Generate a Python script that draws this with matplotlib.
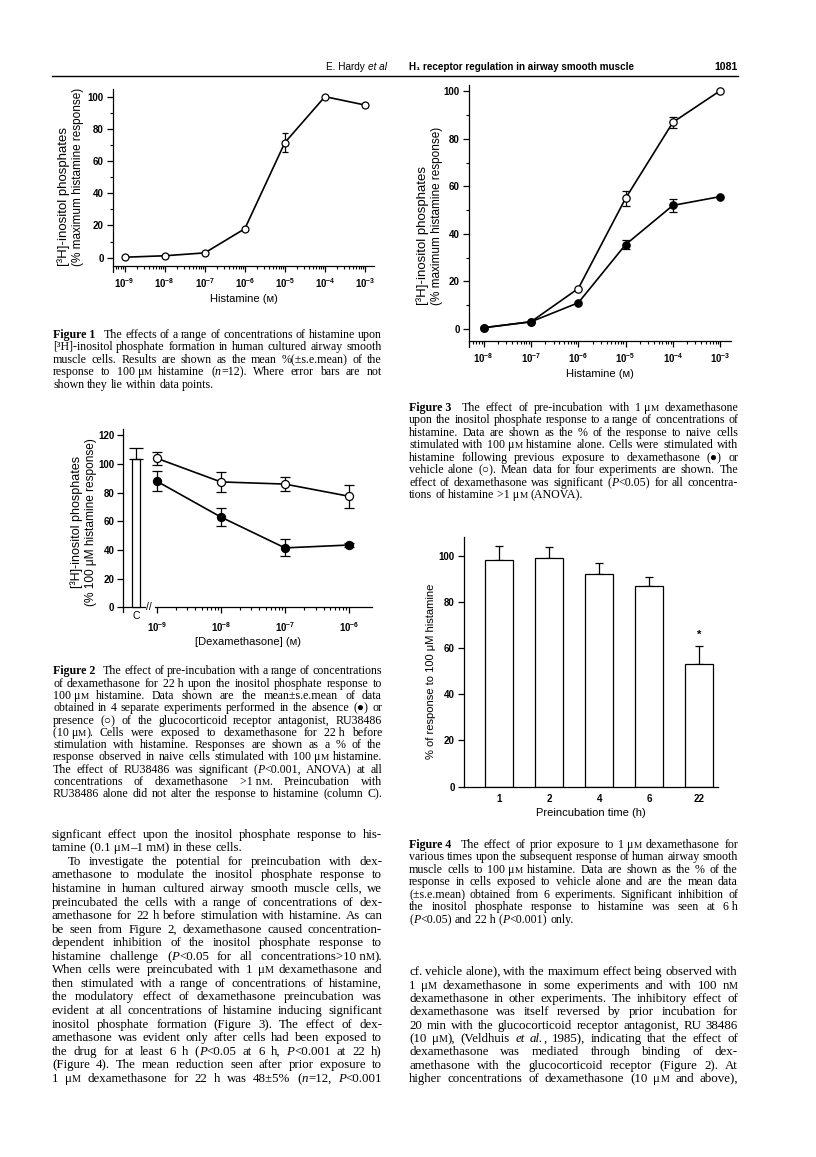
import numpy as np
import matplotlib
matplotlib.use('Agg')
import matplotlib.pyplot as plt
from matplotlib.ticker import MultipleLocator, LogLocator, NullFormatter

# figure 1: histamine concentration-response
f1_conc = np.array([1e-9, 1e-8, 1e-7, 1e-6, 1e-5, 1e-4, 1e-3])
f1_resp = np.array([0.3, 1.2, 3.0, 18.0, 71.5, 100.0, 94.8])
f1_err = np.array([0, 0, 0, 0, 6.0, 0, 1.4])

# figure 2: dexamethasone with / without RU38486
f2_conc = np.array([1e-9, 1e-8, 1e-7, 1e-6])
f2_dex = np.array([88.0, 63.0, 41.5, 43.5])
f2_dex_err = np.array([7.0, 6.5, 6.0, 1.5])
f2_ru = np.array([104.0, 87.5, 86.0, 77.5])
f2_ru_err = np.array([4.5, 7.0, 5.0, 8.0])
f2_c = 103.3
f2_c_err = 7.7

# figure 3: vehicle vs dexamethasone pre-incubation
f3_conc = np.array([1e-8, 1e-7, 1e-6, 1e-5, 1e-4, 1e-3])
f3_veh = np.array([0.5, 3.0, 17.0, 55.0, 87.0, 100.3])
f3_veh_err = np.array([0, 0, 0, 3.2, 2.2, 0])
f3_dex = np.array([0.5, 3.0, 11.0, 35.5, 52.0, 55.7])
f3_dex_err = np.array([0, 0, 0, 1.9, 2.6, 0])

# figure 4: preincubation time
f4_time = ['1', '2', '4', '6', '22']
f4_resp = np.array([98.1, 99.1, 91.9, 87.0, 53.1])
f4_err = np.array([6.1, 4.8, 5.1, 3.8, 7.8])

plt.rcParams['font.family'] = ['Liberation Sans', 'DejaVu Sans']
plt.rcParams['mathtext.default'] = 'regular'
plt.rcParams['axes.linewidth'] = 0.9

W, H = 816, 1157
fig = plt.figure(figsize=(W / 100, H / 100), dpi=100)
renderer = fig.canvas.get_renderer()


def rect(x0, y0, x1, y1):
    return [x0 / W, 1 - y1 / H, (x1 - x0) / W, (y1 - y0) / H]


def fxy(x, y):
    return x / W, 1 - y / H


def curve(ax, x, y, err, filled, ms, cap):
    m = err > 0
    ax.errorbar(x[m], y[m], yerr=err[m], fmt='none', ecolor='k',
                elinewidth=0.9, capsize=cap, capthick=0.9, zorder=2)
    ax.plot(x, y, '-o', color='k', lw=1.2, ms=ms, mew=0.9,
            mfc='k' if filled else 'white', zorder=3, clip_on=False)


def base_style(ax):
    ax.spines['top'].set_visible(False)
    ax.spines['right'].set_visible(False)
    ax.tick_params(which='major', length=4.5, width=0.9, labelsize=7, pad=2)
    ax.tick_params(which='minor', length=2.5, width=0.8)


def pow_labels(exps):
    return [r'$10^{%d}$' % e for e in exps]


def ylab(x, y, lines, sizes, ha='left', dx=13.5):
    # one rotated text per line so each can get its own size
    n = len(lines)
    for i, (s, fs) in enumerate(zip(lines, sizes)):
        xi = x + (i - (n - 1) / 2) * dx
        fig.text(*fxy(xi, y), s, rotation=90, rotation_mode='anchor', ha=ha,
                 va='center', fontsize=fs)


def yticks(ax, top, minor=True):
    vals = list(range(0, top + 1, 20))
    ax.set_yticks(vals, [str(v) for v in vals], fontweight='bold')
    if minor:
        ax.yaxis.set_minor_locator(MultipleLocator(10))


# ---------------- Figure 1 ----------------
ax1 = fig.add_axes(rect(113, 88.6, 374, 272.2))
base_style(ax1)
ax1.set_xscale('log')
ax1.set_xlim(10 ** -9.292, 10 ** -2.775)
ax1.set_ylim(-9, 105)
ax1.spines['bottom'].set_position(('data', -5))
curve(ax1, f1_conc, f1_resp, f1_err, False, 5, 2.5)
e1 = np.round(np.log10(f1_conc)).astype(int)
ax1.set_xticks(f1_conc, pow_labels(e1), fontweight='bold')
ax1.xaxis.set_minor_locator(LogLocator(subs=np.arange(2, 10)))
ax1.xaxis.set_minor_formatter(NullFormatter())
ax1.tick_params(axis='x', which='major', pad=3)
yticks(ax1, 100)
ax1.set_xlabel('Histamine (ᴍ)', fontsize=8, labelpad=3)
ylab(70.5, 266.5, ['[³H]-inositol phosphates', '(% maximum histamine response)'],
     [9.5, 8.5], dx=14.5)

# ---------------- Figure 2 ----------------
ax2 = fig.add_axes(rect(123.5, 429.3, 371.7, 611.7))
base_style(ax2)
x2 = np.log10(f2_conc)
ax2.set_xlim(-9.52, -5.646)
ax2.set_ylim(-3, 124.2)
ax2.spines['bottom'].set_position(('data', 0))
ax2.spines['bottom'].set_bounds(-9.027, -5.646)
ax2.plot([-9.52, -9.18], [0, 0], color='k', lw=0.9, clip_on=False)
ax2.text(-9.128, 0, '//', ha='center', va='center', fontsize=7.5)
ax2.bar([-9.32], [f2_c], width=0.12, color='white', edgecolor='k', lw=0.9, zorder=2)
ax2.errorbar([-9.32], [f2_c], yerr=[[0], [f2_c_err]], fmt='none', ecolor='k',
             elinewidth=0.9, capsize=5, capthick=0.9)
ax2.text(-9.32, -6.3, 'C', ha='center', va='center', fontsize=7.5)
curve(ax2, x2, f2_ru, f2_ru_err, False, 5.8, 3.6)
curve(ax2, x2, f2_dex, f2_dex_err, True, 5.8, 3.6)
ax2.set_xticks(x2, pow_labels(np.round(x2).astype(int)), fontweight='bold')
minor2 = np.concatenate([d + np.log10(np.arange(2, 10)) for d in x2[:-1]])
ax2.set_xticks(minor2, minor=True)
ax2.tick_params(axis='x', which='major', pad=5)
yticks(ax2, 120, minor=False)
ax2.set_xlabel('[Dexamethasone] (ᴍ)', fontsize=8, labelpad=2)
ylab(84, 522, ['[³H]-inositol phosphates', '(% 100 μM histamine response)'],
     [9, 8.6], ha='center', dx=14)

# ---------------- Figure 3 ----------------
ax3 = fig.add_axes(rect(469, 85, 730.7, 346.7))
base_style(ax3)
ax3.set_xscale('log')
ax3.set_xlim(10 ** -8.311, 10 ** -2.778)
ax3.set_ylim(-7.5, 102.7)
ax3.spines['bottom'].set_position(('data', -5))
curve(ax3, f3_conc, f3_veh, f3_veh_err, False, 5.3, 2.8)
curve(ax3, f3_conc, f3_dex, f3_dex_err, True, 5.3, 2.8)
e3 = np.round(np.log10(f3_conc)).astype(int)
ax3.set_xticks(f3_conc, pow_labels(e3), fontweight='bold')
ax3.xaxis.set_minor_locator(LogLocator(subs=np.arange(2, 10)))
ax3.xaxis.set_minor_formatter(NullFormatter())
ax3.tick_params(axis='x', which='major', pad=3)
yticks(ax3, 100)
ax3.set_xlabel('Histamine (ᴍ)', fontsize=8, labelpad=3)
ylab(430, 305, ['[³H]-inositol phosphates', '(% maximum histamine response)'],
     [9.5, 8.5], dx=14.5)

# ---------------- Figure 4 ----------------
ax4 = fig.add_axes(rect(463.7, 536.7, 718, 786.7))
base_style(ax4)
x4 = np.arange(len(f4_time))
ax4.set_xlim(-0.712, 4.375)
ax4.set_ylim(0, 108.2)
ax4.bar(x4, f4_resp, width=0.56, color='white', edgecolor='k', lw=0.9, zorder=2)
ax4.errorbar(x4, f4_resp, yerr=[np.zeros(len(x4)), f4_err], fmt='none',
             ecolor='k', elinewidth=0.9, capsize=3.2, capthick=0.9, zorder=1)
ax4.text(x4[-1], f4_resp[-1] + f4_err[-1] + 2.5, '*', ha='center', va='bottom',
         fontsize=8, fontweight='bold')
ax4.set_xticks(x4, f4_time, fontweight='bold')
ax4.tick_params(axis='x', length=0, pad=5)
yticks(ax4, 100, minor=False)
ax4.set_xlabel('Preincubation time (h)', fontsize=8, labelpad=3)
ylab(430.5, 671, ['% of response to 100 μM histamine'], [8], ha='center')


# ---------------- page text ----------------
SERIF = ['Liberation Serif', 'DejaVu Sans']


def parse(word):
    # ^bold^  ~italic~  #small caps#  _ = fixed space  | = extra gap after
    segs, buf = [], ''
    bold = ital = small = False
    extra = 0
    for ch in word:
        if ch in '^~#':
            if buf:
                segs.append((buf, bold, ital, small))
                buf = ''
            if ch == '^':
                bold = not bold
            elif ch == '~':
                ital = not ital
            else:
                small = not small
        elif ch == '|':
            extra += 5
        else:
            buf += ' ' if ch == '_' else ch
    if buf:
        segs.append((buf, bold, ital, small))
    return segs, extra


def snap_y(t, s, y):
    # agg rounds each glyph bitmap on its own descent; pick a baseline so
    # every word lands on the same pixel row
    _, h, d = renderer.get_text_width_height_descent(s, t.get_fontproperties(), False)
    T = np.round(y)
    return T + np.floor(h) - np.floor(h - d) - d


def put_line(line, x0, x1, y, size, justify=True, family=SERIF):
    words = []
    for w in line.split(' '):
        segs, extra = parse(w)
        items = []
        for s, b, it, sm in segs:
            t = fig.text(0, 0, s, fontsize=size * (0.78 if sm else 1),
                         fontweight='bold' if b else 'normal',
                         fontstyle='italic' if it else 'normal',
                         family=family, va='baseline', ha='left')
            items.append((t, s, t.get_window_extent(renderer).width))
        words.append((items, extra))
    probe = fig.text(0, 0, 'n n', fontsize=size, family=family)
    probe2 = fig.text(0, 0, 'nn', fontsize=size, family=family)
    space = probe.get_window_extent(renderer).width - probe2.get_window_extent(renderer).width
    probe.remove()
    probe2.remove()
    total = sum(sum(w for _, _, w in items) + ex for items, ex in words)
    if justify and len(words) > 1:
        gap = max((x1 - x0 - total) / (len(words) - 1), 1.0)
    else:
        gap = space
    x = x0
    for items, extra in words:
        for t, s, w in items:
            t.set_position(fxy(x, snap_y(t, s, y)))
            x += w
        x += gap + extra


def paragraph(lines, x0, x1, y0, dy, size, last_left=True, indent=None):
    for i, ln in enumerate(lines):
        just = not (last_left and i == len(lines) - 1)
        xs = x0 + (indent[i] if indent and i in indent else 0)
        put_line(ln, xs, x1, y0 + i * dy + 3.6, size, just)


# running head
fig.add_artist(plt.Line2D([52 / W, 738 / W], [1 - 75.5 / H] * 2, color='k', lw=1.0))
SANS = ['Liberation Sans', 'DejaVu Sans']
put_line('E._Hardy ~et_al~', 326, 383, 69.5, 7.2, justify=False, family=SANS)
put_line('^H₁_receptor_regulation_in_airway_smooth_muscle^', 409, 640, 69.5, 7.1,
         justify=False, family=SANS)
fig.text(*fxy(738, 69.5), '1081', ha='right', va='baseline', fontsize=7.6,
         fontweight='bold', family=SANS)

CAP = 8.6
BODY = 9.3

cap1 = ['^Figure_1^| The effects of a range of concentrations of histamine upon',
        '[³H]-inositol phosphate formation in human cultured airway smooth',
        'muscle cells. Results are shown as the mean %(±s.e.mean) of the',
        'response to 100_μ#M# histamine (~n~=12). Where error bars are not',
        'shown they lie within data points.']
paragraph(cap1, 53, 382, 334.3, 12.5, CAP)

cap2 = ['^Figure_2^| The effect of pre-incubation with a range of concentrations',
        'of dexamethasone for 22_h upon the inositol phosphate response to',
        '100_μ#M# histamine. Data shown are the mean±s.e.mean of data',
        'obtained in 4 separate experiments performed in the absence (●) or',
        'presence (○) of the glucocorticoid receptor antagonist, RU38486',
        '(10_μ#M#). Cells were exposed to dexamethasone for 22_h before',
        'stimulation with histamine. Responses are shown as a % of the',
        'response observed in naive cells stimulated with 100_μ#M# histamine.',
        'The effect of RU38486 was significant (~P~<0.001, ANOVA) at all',
        'concentrations of dexamethasone >1_n#M#. Preincubation with',
        'RU38486 alone did not alter the response to histamine (column C).']
paragraph(cap2, 53, 382, 670.7, 12.3, CAP, last_left=False)

cap3 = ['^Figure_3^| The effect of pre-incubation with 1_μ#M# dexamethasone',
        'upon the inositol phosphate response to a range of concentrations of',
        'histamine. Data are shown as the % of the response to naive cells',
        'stimulated with 100_μ#M# histamine alone. Cells were stimulated with',
        'histamine following previous exposure to dexamethasone (●) or',
        'vehicle alone (○). Mean data for four experiments are shown. The',
        'effect of dexamethasone was significant (~P~<0.05) for all concentra-',
        'tions of histamine >1_μ#M# (ANOVA).']
paragraph(cap3, 409, 738, 407.3, 12.45, CAP)

cap4 = ['^Figure_4^| The effect of prior exposure to 1_μ#M# dexamethasone for',
        'various times upon the subsequent response of human airway smooth',
        'muscle cells to 100_μ#M# histamine. Data are shown as the % of the',
        'response in cells exposed to vehicle alone and are the mean data',
        '(±s.e.mean) obtained from 6 experiments. Significant inhibition of',
        'the inositol phosphate response to histamine was seen at 6_h',
        '(~P~<0.05) and 22_h (~P~<0.001) only.']
paragraph(cap4, 409, 738, 844.3, 12.45, CAP)

body_l = ['signficant effect upon the inositol phosphate response to his-',
          'tamine (0.1_μ#M#–1_m#M#) in these cells.']
paragraph(body_l, 52, 382, 834, 13.4, BODY)
body_l2 = ['To investigate the potential for preincubation with dex-',
           'amethasone to modulate the inositol phosphate response to',
           'histamine in human cultured airway smooth muscle cells, we',
           'preincubated the cells with a range of concentrations of dex-',
           'amethasone for 22 h before stimulation with histamine. As can',
           'be seen from Figure 2, dexamethasone caused concentration-',
           'dependent inhibition of the inositol phosphate response to',
           'histamine challenge (~P~<0.05 for all concentrations>10_n#M#).',
           'When cells were preincubated with 1 μ#M# dexamethasone and',
           'then stimulated with a range of concentrations of histamine,',
           'the modulatory effect of dexamethasone preincubation was',
           'evident at all concentrations of histamine inducing significant',
           'inositol phosphate formation (Figure 3). The effect of dex-',
           'amethasone was evident only after cells had been exposed to',
           'the drug for at least 6 h (~P~<0.05 at 6 h, ~P~<0.001 at 22 h)',
           '(Figure 4). The mean reduction seen after prior exposure to',
           '1 μ#M# dexamethasone for 22 h was 48±5% (~n~=12, ~P~<0.001']
paragraph(body_l2, 52, 382, 861.3, 13.56, BODY, last_left=False, indent={0: 16})

body_r = ['cf. vehicle alone), with the maximum effect being observed with',
          '1 μ#M# dexamethasone in some experiments and with 100 n#M#',
          'dexamethasone in other experiments. The inhibitory effect of',
          'dexamethasone was itself reversed by prior incubation for',
          '20 min with the glucocorticoid receptor antagonist, RU 38486',
          '(10 μ#M#), (Veldhuis ~et~ ~al.~, 1985), indicating that the effect of',
          'dexamethasone was mediated through binding of dex-',
          'amethasone with the glucocorticoid receptor (Figure 2). At',
          'higher concentrations of dexamethasone (10 μ#M# and above),']
paragraph(body_r, 409, 738, 971.7, 13.33, BODY, last_left=False)

fig.savefig('out.png', dpi=100, facecolor='white')
